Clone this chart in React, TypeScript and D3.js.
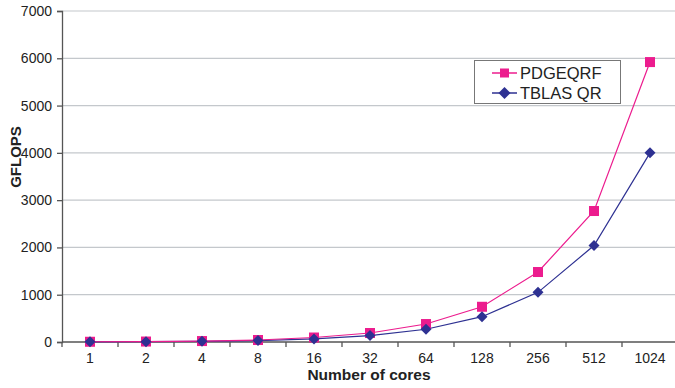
import * as d3 from "d3";
import { useEffect, useRef } from "react";

const cores = ["1", "2", "4", "8", "16", "32", "64", "128", "256", "512", "1024"];
const pdgeqrf = [5, 10, 20, 42, 95, 190, 380, 745, 1480, 2770, 5920];
const tblas = [3, 7, 15, 30, 65, 135, 270, 535, 1050, 2040, 4000];
const yTicks = [0, 1000, 2000, 3000, 4000, 5000, 6000, 7000];

const PINK = "#ec1c8e";
const NAVY = "#2e3192";

export default function App() {
  const ref = useRef<SVGSVGElement | null>(null);

  useEffect(() => {
    const svg = d3.select(ref.current);
    svg.selectAll("*").remove();
    const left = 62;
    const right = 678;
    const top = 11;
    const bottom = 342;

    const x = d3.scaleBand().domain(cores).range([left, right]);
    const y = d3.scaleLinear().domain([0, 7000]).range([bottom, top]);

    const font = "Arial, 'Liberation Sans', sans-serif";

    // gridlines
    svg
      .append("g")
      .selectAll("line")
      .data(yTicks.slice(1))
      .enter()
      .append("line")
      .attr("x1", left)
      .attr("x2", 675)
      .attr("y1", (d) => y(d))
      .attr("y2", (d) => y(d))
      .attr("stroke", "#c4c8cc")
      .attr("stroke-width", 1.2);

    // y axis
    const yAxis = d3
      .axisLeft(y)
      .tickValues(yTicks)
      .tickSize(5)
      .tickPadding(5)
      .tickFormat((d) => String(d));
    const gy = svg.append("g").attr("transform", `translate(${left},0)`).call(yAxis);
    gy.select(".domain").attr("stroke", "#555").attr("stroke-width", 1.3);
    gy.selectAll(".tick line").attr("stroke", "#555").attr("stroke-width", 1.3);
    gy.selectAll(".tick text")
      .attr("fill", "#222")
      .attr("font-size", 14)
      .attr("font-family", font);

    // x axis
    svg
      .append("line")
      .attr("x1", left)
      .attr("x2", 675)
      .attr("y1", bottom)
      .attr("y2", bottom)
      .attr("stroke", "#555")
      .attr("stroke-width", 1.3);
    svg
      .append("g")
      .selectAll("line")
      .data(cores)
      .enter()
      .append("line")
      .attr("x1", (d) => x(d)!)
      .attr("x2", (d) => x(d)!)
      .attr("y1", bottom)
      .attr("y2", bottom + 5)
      .attr("stroke", "#555")
      .attr("stroke-width", 1.3);
    svg
      .append("g")
      .selectAll("text")
      .data(cores)
      .enter()
      .append("text")
      .attr("x", (d) => x(d)! + x.bandwidth() / 2)
      .attr("y", 363)
      .attr("text-anchor", "middle")
      .attr("fill", "#222")
      .attr("font-size", 14)
      .attr("font-family", font)
      .text((d) => d);

    const cx = (i: number) => x(cores[i])! + x.bandwidth() / 2;
    const line = d3
      .line<number>()
      .x((_, i) => cx(i))
      .y((d) => y(d));

    // TBLAS
    svg
      .append("path")
      .attr("d", line(tblas))
      .attr("fill", "none")
      .attr("stroke", NAVY)
      .attr("stroke-width", 1.2);
    // PDGEQRF
    svg
      .append("path")
      .attr("d", line(pdgeqrf))
      .attr("fill", "none")
      .attr("stroke", PINK)
      .attr("stroke-width", 1.2);

    svg
      .append("g")
      .selectAll("rect")
      .data(pdgeqrf)
      .enter()
      .append("rect")
      .attr("x", (_, i) => cx(i) - 5)
      .attr("y", (d) => y(d) - 5)
      .attr("width", 10)
      .attr("height", 10)
      .attr("fill", PINK);

    const diamond = (px: number, py: number, r: number) =>
      `M${px},${py - r}L${px + r},${py}L${px},${py + r}L${px - r},${py}Z`;
    svg
      .append("g")
      .selectAll("path")
      .data(tblas)
      .enter()
      .append("path")
      .attr("d", (d, i) => diamond(cx(i), y(d), 5.5))
      .attr("fill", NAVY);

    // axis titles
    svg
      .append("text")
      .attr("transform", `translate(21,157) rotate(-90)`)
      .attr("text-anchor", "middle")
      .attr("font-size", 15)
      .attr("font-weight", "bold")
      .attr("font-family", font)
      .attr("fill", "#222")
      .text("GFLOPS");
    svg
      .append("text")
      .attr("x", 369)
      .attr("y", 380)
      .attr("text-anchor", "middle")
      .attr("font-size", 15.5)
      .attr("font-weight", "bold")
      .attr("font-family", font)
      .attr("fill", "#222")
      .text("Number of cores");

    // legend
    const lg = svg.append("g");
    lg.append("rect")
      .attr("x", 474.5)
      .attr("y", 60.5)
      .attr("width", 146)
      .attr("height", 43)
      .attr("fill", "#fff")
      .attr("stroke", "#777")
      .attr("stroke-width", 1);
    const items = [
      { name: "PDGEQRF", color: PINK, kind: "square", cy: 73 },
      { name: "TBLAS QR", color: NAVY, kind: "diamond", cy: 93 },
    ];
    items.forEach((it) => {
      lg.append("line")
        .attr("x1", 492)
        .attr("x2", 517)
        .attr("y1", it.cy)
        .attr("y2", it.cy)
        .attr("stroke", it.color)
        .attr("stroke-width", 1.5);
      if (it.kind === "square") {
        lg.append("rect")
          .attr("x", 500)
          .attr("y", it.cy - 4.5)
          .attr("width", 9)
          .attr("height", 9)
          .attr("fill", it.color);
      } else {
        lg.append("path").attr("d", diamond(504.5, it.cy, 6)).attr("fill", it.color);
      }
      lg.append("text")
        .attr("x", 520)
        .attr("y", it.cy + 6)
        .attr("font-size", 16.5)
        .attr("font-family", font)
        .attr("fill", "#222")
        .text(it.name);
    });
  }, []);

  return (
    <svg
      ref={ref}
      width={675}
      height={388}
      style={{ position: "absolute", left: 0, top: 0, background: "#fff" }}
    />
  );
}
